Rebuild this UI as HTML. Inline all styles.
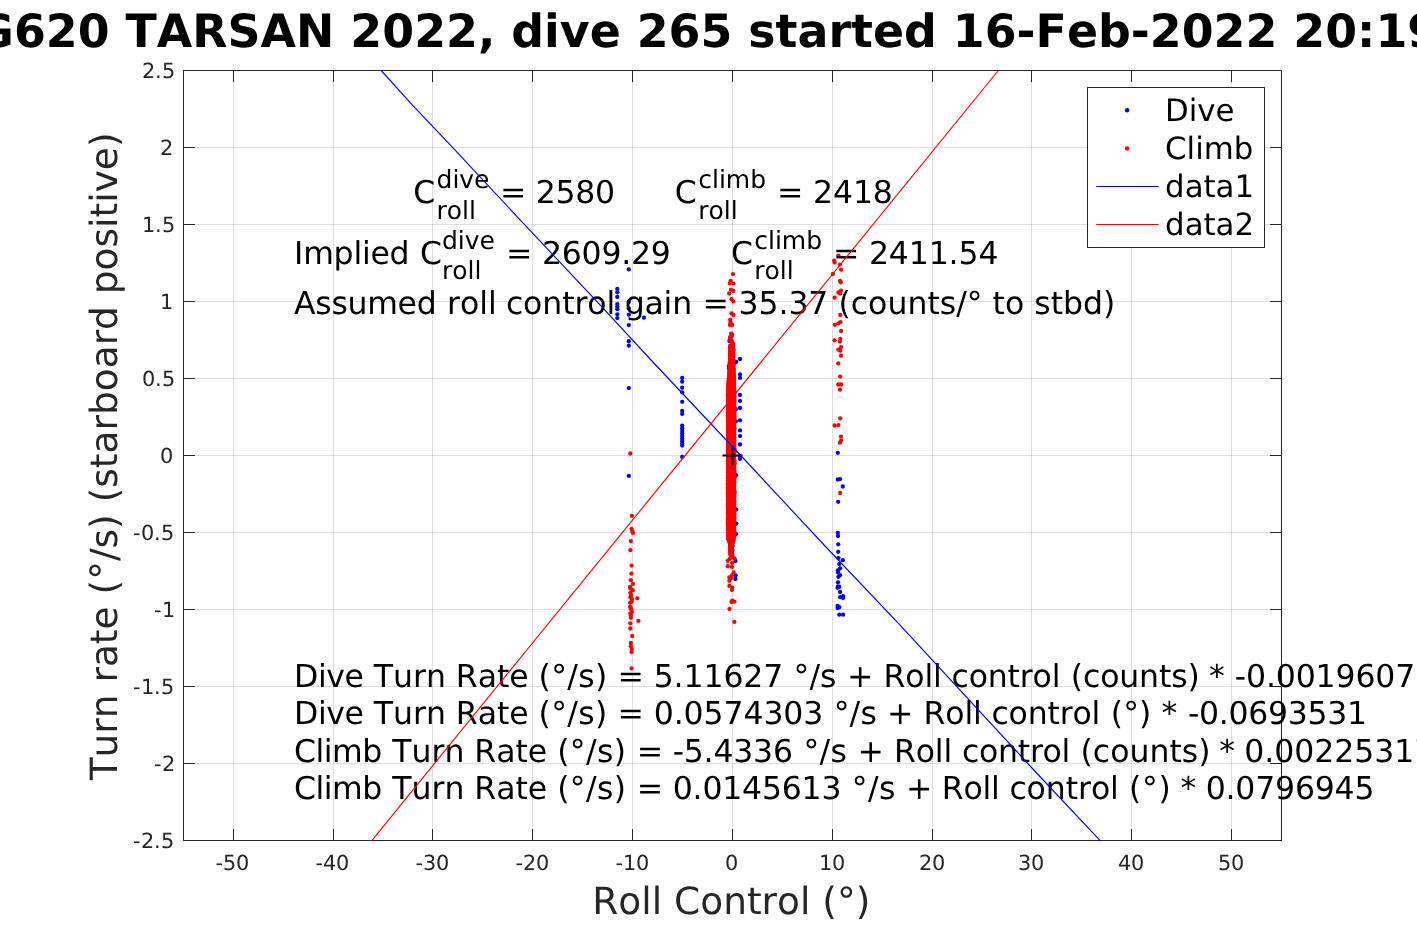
<!DOCTYPE html>
<html lang="en"><head><meta charset="utf-8"><title>SG620 TARSAN 2022, dive 265</title>
<style>
html,body{margin:0;padding:0;background:#fff;}
body{width:1417px;height:945px;overflow:hidden;position:relative;font-family:"DejaVu Sans","Liberation Sans",sans-serif;}
svg{position:absolute;left:0;top:0;display:block;}
text{font-family:"DejaVu Sans","Liberation Sans",sans-serif;font-kerning:none;font-variant-ligatures:none;text-rendering:geometricPrecision;}
.tk{font-size:20.83px;fill:#262626;}
.lb{font-size:37.5px;fill:#262626;}
.an{font-size:31.5px;fill:#000;}
.ss{font-size:25px;}
.lg{font-size:30.8px;fill:#000;}
.ti{font-size:45.83px;font-weight:bold;fill:#000;}
</style></head><body>
<svg width="1417" height="945" viewBox="0 0 1417 945">
<rect x="0" y="0" width="1417" height="945" fill="#fff"/>
<g stroke="#262626" stroke-opacity="0.15" stroke-width="1" shape-rendering="crispEdges">
<line x1="233.5" y1="70.5" x2="233.5" y2="840.5"/>
<line x1="333.5" y1="70.5" x2="333.5" y2="840.5"/>
<line x1="432.5" y1="70.5" x2="432.5" y2="840.5"/>
<line x1="532.5" y1="70.5" x2="532.5" y2="840.5"/>
<line x1="632.5" y1="70.5" x2="632.5" y2="840.5"/>
<line x1="732.5" y1="70.5" x2="732.5" y2="840.5"/>
<line x1="832.5" y1="70.5" x2="832.5" y2="840.5"/>
<line x1="932.5" y1="70.5" x2="932.5" y2="840.5"/>
<line x1="1031.5" y1="70.5" x2="1031.5" y2="840.5"/>
<line x1="1131.5" y1="70.5" x2="1131.5" y2="840.5"/>
<line x1="1231.5" y1="70.5" x2="1231.5" y2="840.5"/>
<line x1="183.5" y1="763.5" x2="1281.5" y2="763.5"/>
<line x1="183.5" y1="686.5" x2="1281.5" y2="686.5"/>
<line x1="183.5" y1="609.5" x2="1281.5" y2="609.5"/>
<line x1="183.5" y1="532.5" x2="1281.5" y2="532.5"/>
<line x1="183.5" y1="455.5" x2="1281.5" y2="455.5"/>
<line x1="183.5" y1="378.5" x2="1281.5" y2="378.5"/>
<line x1="183.5" y1="301.5" x2="1281.5" y2="301.5"/>
<line x1="183.5" y1="224.5" x2="1281.5" y2="224.5"/>
<line x1="183.5" y1="147.5" x2="1281.5" y2="147.5"/>
</g>
<g fill="#262626" stroke="none" shape-rendering="crispEdges">
<rect x="183" y="70" width="1099" height="1"/><rect x="183" y="840" width="1099" height="1"/><rect x="183" y="70" width="1" height="771"/><rect x="1281" y="70" width="1" height="771"/>
<rect x="233" y="829" width="1" height="12"/><rect x="233" y="70" width="1" height="12"/>
<rect x="333" y="829" width="1" height="12"/><rect x="333" y="70" width="1" height="12"/>
<rect x="432" y="829" width="1" height="12"/><rect x="432" y="70" width="1" height="12"/>
<rect x="532" y="829" width="1" height="12"/><rect x="532" y="70" width="1" height="12"/>
<rect x="632" y="829" width="1" height="12"/><rect x="632" y="70" width="1" height="12"/>
<rect x="732" y="829" width="1" height="12"/><rect x="732" y="70" width="1" height="12"/>
<rect x="832" y="829" width="1" height="12"/><rect x="832" y="70" width="1" height="12"/>
<rect x="932" y="829" width="1" height="12"/><rect x="932" y="70" width="1" height="12"/>
<rect x="1031" y="829" width="1" height="12"/><rect x="1031" y="70" width="1" height="12"/>
<rect x="1131" y="829" width="1" height="12"/><rect x="1131" y="70" width="1" height="12"/>
<rect x="1231" y="829" width="1" height="12"/><rect x="1231" y="70" width="1" height="12"/>
<rect x="183" y="763" width="12" height="1"/><rect x="1270" y="763" width="12" height="1"/>
<rect x="183" y="686" width="12" height="1"/><rect x="1270" y="686" width="12" height="1"/>
<rect x="183" y="609" width="12" height="1"/><rect x="1270" y="609" width="12" height="1"/>
<rect x="183" y="532" width="12" height="1"/><rect x="1270" y="532" width="12" height="1"/>
<rect x="183" y="455" width="12" height="1"/><rect x="1270" y="455" width="12" height="1"/>
<rect x="183" y="378" width="12" height="1"/><rect x="1270" y="378" width="12" height="1"/>
<rect x="183" y="301" width="12" height="1"/><rect x="1270" y="301" width="12" height="1"/>
<rect x="183" y="224" width="12" height="1"/><rect x="1270" y="224" width="12" height="1"/>
<rect x="183" y="147" width="12" height="1"/><rect x="1270" y="147" width="12" height="1"/>
</g>
<g fill="#0000ff">
<circle cx="617.3" cy="288.9" r="2.15"/>
<circle cx="617.3" cy="292.3" r="2.15"/>
<circle cx="617.3" cy="296.9" r="2.15"/>
<circle cx="617.3" cy="304.1" r="2.15"/>
<circle cx="617.3" cy="306.6" r="2.15"/>
<circle cx="617.3" cy="309.2" r="2.15"/>
<circle cx="617.3" cy="314.3" r="2.15"/>
<circle cx="617.3" cy="318.1" r="2.15"/>
<circle cx="628.8" cy="269.4" r="2.15"/>
<circle cx="628.8" cy="302" r="2.15"/>
<circle cx="628.8" cy="308.3" r="2.15"/>
<circle cx="628.8" cy="314.7" r="2.15"/>
<circle cx="628.8" cy="325.1" r="2.15"/>
<circle cx="628.8" cy="341.2" r="2.15"/>
<circle cx="628.8" cy="345.7" r="2.15"/>
<circle cx="628.8" cy="388.1" r="2.15"/>
<circle cx="628.8" cy="475.9" r="2.15"/>
<circle cx="643.9" cy="317.7" r="2.15"/>
<circle cx="682.2" cy="377.9" r="2.15"/>
<circle cx="682.2" cy="381.7" r="2.15"/>
<circle cx="682.2" cy="387.7" r="2.15"/>
<circle cx="682.2" cy="392.3" r="2.15"/>
<circle cx="682.2" cy="401.8" r="2.15"/>
<circle cx="682.2" cy="410.9" r="2.15"/>
<circle cx="682.2" cy="413.9" r="2.15"/>
<circle cx="682.2" cy="425.7" r="2.15"/>
<circle cx="682.2" cy="428.3" r="2.15"/>
<circle cx="682.2" cy="430.8" r="2.15"/>
<circle cx="682.2" cy="433.4" r="2.15"/>
<circle cx="682.2" cy="435.9" r="2.15"/>
<circle cx="682.2" cy="438.4" r="2.15"/>
<circle cx="682.2" cy="441" r="2.15"/>
<circle cx="682.2" cy="443.5" r="2.15"/>
<circle cx="682.2" cy="445.6" r="2.15"/>
<circle cx="682.2" cy="456.9" r="2.15"/>
<circle cx="740.0" cy="359" r="2.15"/>
<circle cx="740.0" cy="374.4" r="2.15"/>
<circle cx="740.0" cy="377.9" r="2.15"/>
<circle cx="740.0" cy="394.9" r="2.15"/>
<circle cx="740.0" cy="400.9" r="2.15"/>
<circle cx="740.0" cy="408" r="2.15"/>
<circle cx="740.0" cy="420.3" r="2.15"/>
<circle cx="740.0" cy="430.4" r="2.15"/>
<circle cx="740.0" cy="436.1" r="2.15"/>
<circle cx="740.0" cy="444.5" r="2.15"/>
<circle cx="740.0" cy="456.3" r="2.15"/>
<circle cx="740.0" cy="458.8" r="2.15"/>
<circle cx="736" cy="361.6" r="2.15"/>
<circle cx="735.7" cy="362.4" r="2.15"/>
<circle cx="729.4" cy="341" r="2.15"/>
<circle cx="729" cy="366" r="2.15"/>
<circle cx="729" cy="368.5" r="2.15"/>
<circle cx="735.7" cy="409.2" r="2.15"/>
<circle cx="735.7" cy="421.5" r="2.15"/>
<circle cx="736.1" cy="475.3" r="2.15"/>
<circle cx="736.3" cy="509.6" r="2.15"/>
<circle cx="736.3" cy="523.6" r="2.15"/>
<circle cx="735.9" cy="534.2" r="2.15"/>
<circle cx="732.6" cy="546" r="2.15"/>
<circle cx="735.5" cy="560.9" r="2.15"/>
<circle cx="735.6" cy="575.3" r="2.15"/>
<circle cx="735.4" cy="579" r="2.15"/>
<circle cx="837.8" cy="452.8" r="2.15"/>
<circle cx="837.8" cy="479.5" r="2.15"/>
<circle cx="840.1" cy="479.1" r="2.15"/>
<circle cx="842.8" cy="486.5" r="2.15"/>
<circle cx="838.2" cy="501.8" r="2.15"/>
<circle cx="837.8" cy="532.8" r="2.15"/>
<circle cx="838" cy="536" r="2.15"/>
<circle cx="838.2" cy="544.3" r="2.15"/>
<circle cx="838.2" cy="551.8" r="2.15"/>
<circle cx="838.4" cy="558.1" r="2.15"/>
<circle cx="842.8" cy="560.2" r="2.15"/>
<circle cx="839.3" cy="564.1" r="2.15"/>
<circle cx="840.1" cy="568.3" r="2.15"/>
<circle cx="838" cy="570.4" r="2.15"/>
<circle cx="838" cy="572.5" r="2.15"/>
<circle cx="840.1" cy="575.1" r="2.15"/>
<circle cx="838.4" cy="576.8" r="2.15"/>
<circle cx="838" cy="582.3" r="2.15"/>
<circle cx="838" cy="586.5" r="2.15"/>
<circle cx="839.3" cy="586.9" r="2.15"/>
<circle cx="837.6" cy="587.8" r="2.15"/>
<circle cx="840.1" cy="592" r="2.15"/>
<circle cx="843.1" cy="596.2" r="2.15"/>
<circle cx="840.1" cy="597.1" r="2.15"/>
<circle cx="843.1" cy="597.9" r="2.15"/>
<circle cx="837.6" cy="606" r="2.15"/>
<circle cx="839.3" cy="607.2" r="2.15"/>
<circle cx="837.6" cy="608.1" r="2.15"/>
<circle cx="839.3" cy="614.7" r="2.15"/>
<circle cx="843.1" cy="614.7" r="2.15"/>
</g>
<g fill="#ff0000">
<circle cx="630.3" cy="453.5" r="2.15"/>
<circle cx="631.9" cy="515.8" r="2.15"/>
<circle cx="631.6" cy="528.8" r="2.15"/>
<circle cx="632.3" cy="530.9" r="2.15"/>
<circle cx="632.9" cy="532.9" r="2.15"/>
<circle cx="630.8" cy="541.1" r="2.15"/>
<circle cx="630.4" cy="550.2" r="2.15"/>
<circle cx="631.6" cy="565.6" r="2.15"/>
<circle cx="631.4" cy="573.7" r="2.15"/>
<circle cx="630.8" cy="580.2" r="2.15"/>
<circle cx="632.9" cy="583.9" r="2.15"/>
<circle cx="630.1" cy="586.9" r="2.15"/>
<circle cx="630.4" cy="588.5" r="2.15"/>
<circle cx="632.9" cy="590.2" r="2.15"/>
<circle cx="630.4" cy="592.8" r="2.15"/>
<circle cx="631.2" cy="594.9" r="2.15"/>
<circle cx="630.4" cy="597.2" r="2.15"/>
<circle cx="631.6" cy="598.3" r="2.15"/>
<circle cx="631.8" cy="600" r="2.15"/>
<circle cx="631.6" cy="601.7" r="2.15"/>
<circle cx="630.1" cy="602.8" r="2.15"/>
<circle cx="637.3" cy="598.3" r="2.15"/>
<circle cx="630.1" cy="606.8" r="2.15"/>
<circle cx="630.8" cy="608.4" r="2.15"/>
<circle cx="631.6" cy="610.1" r="2.15"/>
<circle cx="631.8" cy="612.3" r="2.15"/>
<circle cx="630.4" cy="613.5" r="2.15"/>
<circle cx="630.8" cy="615.6" r="2.15"/>
<circle cx="630.8" cy="617.8" r="2.15"/>
<circle cx="638.4" cy="620.9" r="2.15"/>
<circle cx="630.3" cy="623.3" r="2.15"/>
<circle cx="630.3" cy="628.5" r="2.15"/>
<circle cx="632.2" cy="636" r="2.15"/>
<circle cx="630.8" cy="642.8" r="2.15"/>
<circle cx="630.8" cy="646.2" r="2.15"/>
<circle cx="631.8" cy="649.1" r="2.15"/>
<circle cx="631.6" cy="652" r="2.15"/>
<circle cx="631.6" cy="668.4" r="2.15"/>
<circle cx="733.0" cy="274.1" r="2.15"/>
<circle cx="730.6" cy="280.8" r="2.15"/>
<circle cx="729.8" cy="283.4" r="2.15"/>
<circle cx="733.4" cy="283.6" r="2.15"/>
<circle cx="730.9" cy="289.7" r="2.15"/>
<circle cx="733.4" cy="291" r="2.15"/>
<circle cx="729.2" cy="293.5" r="2.15"/>
<circle cx="731.5" cy="299.2" r="2.15"/>
<circle cx="733.4" cy="301.4" r="2.15"/>
<circle cx="731.5" cy="313.4" r="2.15"/>
<circle cx="733.4" cy="315" r="2.15"/>
<circle cx="730.2" cy="319.8" r="2.15"/>
<circle cx="730.6" cy="322.3" r="2.15"/>
<circle cx="729.8" cy="324.9" r="2.15"/>
<circle cx="732.3" cy="324.9" r="2.15"/>
<circle cx="731.1" cy="333.7" r="2.15"/>
<circle cx="732.2" cy="334.7" r="2.15"/>
<circle cx="731.8" cy="335.9" r="2.15"/>
<circle cx="730.3" cy="337.0" r="2.15"/>
<circle cx="730.2" cy="337.9" r="2.15"/>
<circle cx="730.3" cy="338.7" r="2.15"/>
<circle cx="731.5" cy="340.3" r="2.15"/>
<circle cx="730.5" cy="340.8" r="2.15"/>
<circle cx="732.1" cy="342.4" r="2.15"/>
<circle cx="731.9" cy="342.9" r="2.15"/>
<circle cx="733.2" cy="343.6" r="2.15"/>
<circle cx="732.8" cy="344.8" r="2.15"/>
<circle cx="730.6" cy="345.7" r="2.15"/>
<circle cx="731.1" cy="346.3" r="2.15"/>
<circle cx="730.1" cy="346.0" r="2.15"/>
<circle cx="733.1" cy="346.5" r="2.15"/>
<circle cx="732.1" cy="346.9" r="2.15"/>
<circle cx="731.9" cy="346.7" r="2.15"/>
<circle cx="730.0" cy="347.0" r="2.15"/>
<circle cx="732.8" cy="347.5" r="2.15"/>
<circle cx="732.3" cy="347.9" r="2.15"/>
<circle cx="731.1" cy="348.1" r="2.15"/>
<circle cx="730.3" cy="348.0" r="2.15"/>
<circle cx="732.9" cy="348.5" r="2.15"/>
<circle cx="732.6" cy="349.2" r="2.15"/>
<circle cx="730.9" cy="349.1" r="2.15"/>
<circle cx="730.4" cy="349.0" r="2.15"/>
<circle cx="733.4" cy="349.5" r="2.15"/>
<circle cx="732.4" cy="349.8" r="2.15"/>
<circle cx="733.2" cy="349.7" r="2.15"/>
<circle cx="730.3" cy="350.0" r="2.15"/>
<circle cx="733.3" cy="350.5" r="2.15"/>
<circle cx="730.6" cy="351.0" r="2.15"/>
<circle cx="730.2" cy="351.1" r="2.15"/>
<circle cx="730.6" cy="351.0" r="2.15"/>
<circle cx="733.1" cy="351.5" r="2.15"/>
<circle cx="732.9" cy="351.9" r="2.15"/>
<circle cx="732.3" cy="352.1" r="2.15"/>
<circle cx="730.4" cy="352.0" r="2.15"/>
<circle cx="733.0" cy="352.5" r="2.15"/>
<circle cx="732.8" cy="353.4" r="2.15"/>
<circle cx="731.6" cy="353.1" r="2.15"/>
<circle cx="730.0" cy="353.0" r="2.15"/>
<circle cx="733.2" cy="353.5" r="2.15"/>
<circle cx="732.2" cy="354.4" r="2.15"/>
<circle cx="732.7" cy="353.8" r="2.15"/>
<circle cx="730.2" cy="354.0" r="2.15"/>
<circle cx="733.2" cy="354.5" r="2.15"/>
<circle cx="730.2" cy="355.0" r="2.15"/>
<circle cx="730.6" cy="354.7" r="2.15"/>
<circle cx="730.0" cy="355.0" r="2.15"/>
<circle cx="733.3" cy="355.5" r="2.15"/>
<circle cx="730.5" cy="355.8" r="2.15"/>
<circle cx="731.4" cy="356.3" r="2.15"/>
<circle cx="730.0" cy="356.0" r="2.15"/>
<circle cx="733.0" cy="356.5" r="2.15"/>
<circle cx="731.9" cy="357.3" r="2.15"/>
<circle cx="732.7" cy="357.3" r="2.15"/>
<circle cx="730.2" cy="357.0" r="2.15"/>
<circle cx="733.0" cy="357.5" r="2.15"/>
<circle cx="731.2" cy="358.3" r="2.15"/>
<circle cx="733.2" cy="357.7" r="2.15"/>
<circle cx="730.1" cy="358.0" r="2.15"/>
<circle cx="732.8" cy="358.5" r="2.15"/>
<circle cx="730.8" cy="359.0" r="2.15"/>
<circle cx="732.0" cy="358.8" r="2.15"/>
<circle cx="729.9" cy="359.0" r="2.15"/>
<circle cx="733.0" cy="359.5" r="2.15"/>
<circle cx="731.3" cy="360.1" r="2.15"/>
<circle cx="733.1" cy="360.2" r="2.15"/>
<circle cx="730.4" cy="360.0" r="2.15"/>
<circle cx="733.2" cy="360.5" r="2.15"/>
<circle cx="732.3" cy="360.6" r="2.15"/>
<circle cx="733.0" cy="361.2" r="2.15"/>
<circle cx="730.6" cy="361.0" r="2.15"/>
<circle cx="733.4" cy="361.5" r="2.15"/>
<circle cx="731.3" cy="361.9" r="2.15"/>
<circle cx="730.3" cy="362.1" r="2.15"/>
<circle cx="729.8" cy="362.0" r="2.15"/>
<circle cx="732.7" cy="362.5" r="2.15"/>
<circle cx="730.6" cy="362.7" r="2.15"/>
<circle cx="731.1" cy="362.6" r="2.15"/>
<circle cx="729.7" cy="363.0" r="2.15"/>
<circle cx="732.8" cy="363.5" r="2.15"/>
<circle cx="730.2" cy="363.9" r="2.15"/>
<circle cx="729.9" cy="364.3" r="2.15"/>
<circle cx="730.2" cy="364.0" r="2.15"/>
<circle cx="732.9" cy="364.5" r="2.15"/>
<circle cx="730.7" cy="364.9" r="2.15"/>
<circle cx="731.1" cy="364.7" r="2.15"/>
<circle cx="730.3" cy="365.0" r="2.15"/>
<circle cx="733.7" cy="365.5" r="2.15"/>
<circle cx="731.5" cy="366.0" r="2.15"/>
<circle cx="730.0" cy="365.7" r="2.15"/>
<circle cx="729.8" cy="366.0" r="2.15"/>
<circle cx="733.0" cy="366.5" r="2.15"/>
<circle cx="732.9" cy="366.7" r="2.15"/>
<circle cx="729.7" cy="367.4" r="2.15"/>
<circle cx="729.9" cy="367.0" r="2.15"/>
<circle cx="733.0" cy="367.5" r="2.15"/>
<circle cx="731.7" cy="367.6" r="2.15"/>
<circle cx="731.7" cy="368.4" r="2.15"/>
<circle cx="730.1" cy="368.0" r="2.15"/>
<circle cx="733.5" cy="368.5" r="2.15"/>
<circle cx="730.5" cy="368.9" r="2.15"/>
<circle cx="730.2" cy="369.2" r="2.15"/>
<circle cx="729.7" cy="369.0" r="2.15"/>
<circle cx="733.6" cy="369.5" r="2.15"/>
<circle cx="730.8" cy="369.8" r="2.15"/>
<circle cx="732.8" cy="370.4" r="2.15"/>
<circle cx="730.0" cy="370.0" r="2.15"/>
<circle cx="733.7" cy="370.5" r="2.15"/>
<circle cx="732.9" cy="371.2" r="2.15"/>
<circle cx="730.3" cy="371.0" r="2.15"/>
<circle cx="729.5" cy="371.0" r="2.15"/>
<circle cx="733.0" cy="371.5" r="2.15"/>
<circle cx="729.4" cy="371.8" r="2.15"/>
<circle cx="730.4" cy="372.2" r="2.15"/>
<circle cx="729.9" cy="372.0" r="2.15"/>
<circle cx="733.4" cy="372.5" r="2.15"/>
<circle cx="733.4" cy="373.4" r="2.15"/>
<circle cx="733.5" cy="372.9" r="2.15"/>
<circle cx="729.2" cy="373.0" r="2.15"/>
<circle cx="733.2" cy="373.5" r="2.15"/>
<circle cx="730.0" cy="373.8" r="2.15"/>
<circle cx="732.0" cy="374.3" r="2.15"/>
<circle cx="729.7" cy="374.0" r="2.15"/>
<circle cx="733.5" cy="374.5" r="2.15"/>
<circle cx="732.2" cy="375.2" r="2.15"/>
<circle cx="729.5" cy="375.1" r="2.15"/>
<circle cx="729.7" cy="375.0" r="2.15"/>
<circle cx="733.8" cy="375.5" r="2.15"/>
<circle cx="732.6" cy="376.0" r="2.15"/>
<circle cx="729.8" cy="376.2" r="2.15"/>
<circle cx="729.1" cy="376.0" r="2.15"/>
<circle cx="733.9" cy="376.5" r="2.15"/>
<circle cx="733.7" cy="376.9" r="2.15"/>
<circle cx="730.9" cy="377.4" r="2.15"/>
<circle cx="729.4" cy="377.0" r="2.15"/>
<circle cx="733.3" cy="377.5" r="2.15"/>
<circle cx="729.5" cy="377.7" r="2.15"/>
<circle cx="733.4" cy="378.2" r="2.15"/>
<circle cx="728.8" cy="378.0" r="2.15"/>
<circle cx="733.9" cy="378.5" r="2.15"/>
<circle cx="733.8" cy="379.1" r="2.15"/>
<circle cx="730.6" cy="379.0" r="2.15"/>
<circle cx="728.7" cy="379.0" r="2.15"/>
<circle cx="733.2" cy="379.5" r="2.15"/>
<circle cx="733.8" cy="380.1" r="2.15"/>
<circle cx="731.5" cy="380.3" r="2.15"/>
<circle cx="728.9" cy="380.0" r="2.15"/>
<circle cx="734.1" cy="380.5" r="2.15"/>
<circle cx="733.1" cy="380.8" r="2.15"/>
<circle cx="730.0" cy="380.8" r="2.15"/>
<circle cx="728.6" cy="381.0" r="2.15"/>
<circle cx="733.8" cy="381.5" r="2.15"/>
<circle cx="730.0" cy="381.9" r="2.15"/>
<circle cx="729.3" cy="382.3" r="2.15"/>
<circle cx="728.7" cy="382.0" r="2.15"/>
<circle cx="733.7" cy="382.5" r="2.15"/>
<circle cx="731.7" cy="383.3" r="2.15"/>
<circle cx="730.8" cy="383.3" r="2.15"/>
<circle cx="728.7" cy="383.0" r="2.15"/>
<circle cx="733.8" cy="383.5" r="2.15"/>
<circle cx="731.4" cy="383.6" r="2.15"/>
<circle cx="730.9" cy="383.7" r="2.15"/>
<circle cx="728.2" cy="384.0" r="2.15"/>
<circle cx="734.1" cy="384.5" r="2.15"/>
<circle cx="729.3" cy="385.0" r="2.15"/>
<circle cx="732.5" cy="385.0" r="2.15"/>
<circle cx="728.4" cy="385.0" r="2.15"/>
<circle cx="733.9" cy="385.5" r="2.15"/>
<circle cx="731.5" cy="386.2" r="2.15"/>
<circle cx="728.9" cy="386.0" r="2.15"/>
<circle cx="728.3" cy="386.0" r="2.15"/>
<circle cx="733.7" cy="386.5" r="2.15"/>
<circle cx="732.8" cy="387.0" r="2.15"/>
<circle cx="731.6" cy="387.2" r="2.15"/>
<circle cx="728.8" cy="387.0" r="2.15"/>
<circle cx="733.9" cy="387.5" r="2.15"/>
<circle cx="731.9" cy="388.0" r="2.15"/>
<circle cx="731.3" cy="388.2" r="2.15"/>
<circle cx="728.3" cy="388.0" r="2.15"/>
<circle cx="734.0" cy="388.5" r="2.15"/>
<circle cx="731.0" cy="389.4" r="2.15"/>
<circle cx="732.4" cy="389.3" r="2.15"/>
<circle cx="728.7" cy="389.0" r="2.15"/>
<circle cx="733.8" cy="389.5" r="2.15"/>
<circle cx="731.5" cy="390.4" r="2.15"/>
<circle cx="733.3" cy="389.7" r="2.15"/>
<circle cx="727.9" cy="390.0" r="2.15"/>
<circle cx="734.0" cy="390.5" r="2.15"/>
<circle cx="728.5" cy="390.8" r="2.15"/>
<circle cx="728.5" cy="391.1" r="2.15"/>
<circle cx="728.5" cy="391.0" r="2.15"/>
<circle cx="734.4" cy="391.5" r="2.15"/>
<circle cx="729.0" cy="392.2" r="2.15"/>
<circle cx="732.2" cy="391.7" r="2.15"/>
<circle cx="728.6" cy="392.0" r="2.15"/>
<circle cx="734.5" cy="392.5" r="2.15"/>
<circle cx="729.4" cy="393.4" r="2.15"/>
<circle cx="730.5" cy="393.0" r="2.15"/>
<circle cx="728.7" cy="393.0" r="2.15"/>
<circle cx="734.3" cy="393.5" r="2.15"/>
<circle cx="729.0" cy="393.9" r="2.15"/>
<circle cx="731.2" cy="393.9" r="2.15"/>
<circle cx="728.0" cy="394.0" r="2.15"/>
<circle cx="733.9" cy="394.5" r="2.15"/>
<circle cx="732.5" cy="394.6" r="2.15"/>
<circle cx="731.5" cy="395.0" r="2.15"/>
<circle cx="727.8" cy="395.0" r="2.15"/>
<circle cx="733.9" cy="395.5" r="2.15"/>
<circle cx="731.9" cy="396.0" r="2.15"/>
<circle cx="728.4" cy="396.4" r="2.15"/>
<circle cx="728.5" cy="396.0" r="2.15"/>
<circle cx="734.5" cy="396.5" r="2.15"/>
<circle cx="728.7" cy="396.8" r="2.15"/>
<circle cx="728.2" cy="397.2" r="2.15"/>
<circle cx="728.0" cy="397.0" r="2.15"/>
<circle cx="733.7" cy="397.5" r="2.15"/>
<circle cx="730.7" cy="398.3" r="2.15"/>
<circle cx="733.2" cy="397.8" r="2.15"/>
<circle cx="727.9" cy="398.0" r="2.15"/>
<circle cx="734.4" cy="398.5" r="2.15"/>
<circle cx="731.6" cy="399.2" r="2.15"/>
<circle cx="728.6" cy="398.6" r="2.15"/>
<circle cx="728.4" cy="399.0" r="2.15"/>
<circle cx="734.0" cy="399.5" r="2.15"/>
<circle cx="728.5" cy="400.4" r="2.15"/>
<circle cx="732.0" cy="400.2" r="2.15"/>
<circle cx="727.9" cy="400.0" r="2.15"/>
<circle cx="734.4" cy="400.5" r="2.15"/>
<circle cx="728.4" cy="401.3" r="2.15"/>
<circle cx="730.9" cy="400.9" r="2.15"/>
<circle cx="728.3" cy="401.0" r="2.15"/>
<circle cx="734.4" cy="401.5" r="2.15"/>
<circle cx="729.7" cy="401.7" r="2.15"/>
<circle cx="731.3" cy="401.8" r="2.15"/>
<circle cx="727.9" cy="402.0" r="2.15"/>
<circle cx="733.7" cy="402.5" r="2.15"/>
<circle cx="728.3" cy="402.8" r="2.15"/>
<circle cx="730.0" cy="402.8" r="2.15"/>
<circle cx="728.5" cy="403.0" r="2.15"/>
<circle cx="733.9" cy="403.5" r="2.15"/>
<circle cx="731.2" cy="403.7" r="2.15"/>
<circle cx="730.2" cy="403.6" r="2.15"/>
<circle cx="728.0" cy="404.0" r="2.15"/>
<circle cx="733.6" cy="404.5" r="2.15"/>
<circle cx="732.6" cy="405.0" r="2.15"/>
<circle cx="729.2" cy="405.0" r="2.15"/>
<circle cx="728.6" cy="405.0" r="2.15"/>
<circle cx="733.7" cy="405.5" r="2.15"/>
<circle cx="733.2" cy="405.9" r="2.15"/>
<circle cx="731.1" cy="406.3" r="2.15"/>
<circle cx="728.2" cy="406.0" r="2.15"/>
<circle cx="734.1" cy="406.5" r="2.15"/>
<circle cx="732.3" cy="407.4" r="2.15"/>
<circle cx="730.2" cy="407.3" r="2.15"/>
<circle cx="728.4" cy="407.0" r="2.15"/>
<circle cx="734.2" cy="407.5" r="2.15"/>
<circle cx="730.5" cy="407.9" r="2.15"/>
<circle cx="728.3" cy="407.7" r="2.15"/>
<circle cx="727.9" cy="408.0" r="2.15"/>
<circle cx="734.3" cy="408.5" r="2.15"/>
<circle cx="729.6" cy="408.7" r="2.15"/>
<circle cx="728.5" cy="409.3" r="2.15"/>
<circle cx="728.6" cy="409.0" r="2.15"/>
<circle cx="734.2" cy="409.5" r="2.15"/>
<circle cx="729.8" cy="409.8" r="2.15"/>
<circle cx="729.8" cy="410.0" r="2.15"/>
<circle cx="727.9" cy="410.0" r="2.15"/>
<circle cx="734.0" cy="410.5" r="2.15"/>
<circle cx="729.7" cy="411.4" r="2.15"/>
<circle cx="734.1" cy="411.0" r="2.15"/>
<circle cx="728.0" cy="411.0" r="2.15"/>
<circle cx="734.5" cy="411.5" r="2.15"/>
<circle cx="730.0" cy="411.9" r="2.15"/>
<circle cx="728.0" cy="411.9" r="2.15"/>
<circle cx="728.2" cy="412.0" r="2.15"/>
<circle cx="734.1" cy="412.5" r="2.15"/>
<circle cx="729.3" cy="413.0" r="2.15"/>
<circle cx="728.0" cy="412.8" r="2.15"/>
<circle cx="727.9" cy="413.0" r="2.15"/>
<circle cx="734.0" cy="413.5" r="2.15"/>
<circle cx="728.3" cy="413.6" r="2.15"/>
<circle cx="729.9" cy="413.8" r="2.15"/>
<circle cx="728.3" cy="414.0" r="2.15"/>
<circle cx="734.1" cy="414.5" r="2.15"/>
<circle cx="732.7" cy="415.1" r="2.15"/>
<circle cx="732.5" cy="415.3" r="2.15"/>
<circle cx="728.2" cy="415.0" r="2.15"/>
<circle cx="733.9" cy="415.5" r="2.15"/>
<circle cx="734.2" cy="415.7" r="2.15"/>
<circle cx="732.6" cy="416.1" r="2.15"/>
<circle cx="727.8" cy="416.0" r="2.15"/>
<circle cx="734.4" cy="416.5" r="2.15"/>
<circle cx="733.6" cy="417.1" r="2.15"/>
<circle cx="732.6" cy="417.2" r="2.15"/>
<circle cx="727.9" cy="417.0" r="2.15"/>
<circle cx="734.1" cy="417.5" r="2.15"/>
<circle cx="731.2" cy="418.3" r="2.15"/>
<circle cx="733.1" cy="418.3" r="2.15"/>
<circle cx="728.3" cy="418.0" r="2.15"/>
<circle cx="734.4" cy="418.5" r="2.15"/>
<circle cx="732.3" cy="419.2" r="2.15"/>
<circle cx="729.4" cy="418.6" r="2.15"/>
<circle cx="727.9" cy="419.0" r="2.15"/>
<circle cx="733.9" cy="419.5" r="2.15"/>
<circle cx="728.7" cy="420.3" r="2.15"/>
<circle cx="731.5" cy="420.1" r="2.15"/>
<circle cx="728.4" cy="420.0" r="2.15"/>
<circle cx="734.2" cy="420.5" r="2.15"/>
<circle cx="731.1" cy="420.6" r="2.15"/>
<circle cx="733.0" cy="421.2" r="2.15"/>
<circle cx="728.3" cy="421.0" r="2.15"/>
<circle cx="734.1" cy="421.5" r="2.15"/>
<circle cx="732.2" cy="421.7" r="2.15"/>
<circle cx="732.6" cy="421.8" r="2.15"/>
<circle cx="727.9" cy="422.0" r="2.15"/>
<circle cx="733.8" cy="422.5" r="2.15"/>
<circle cx="732.6" cy="422.8" r="2.15"/>
<circle cx="732.7" cy="423.4" r="2.15"/>
<circle cx="728.2" cy="423.0" r="2.15"/>
<circle cx="733.9" cy="423.5" r="2.15"/>
<circle cx="731.0" cy="424.1" r="2.15"/>
<circle cx="732.8" cy="424.1" r="2.15"/>
<circle cx="728.4" cy="424.0" r="2.15"/>
<circle cx="733.7" cy="424.5" r="2.15"/>
<circle cx="728.9" cy="424.8" r="2.15"/>
<circle cx="732.7" cy="424.8" r="2.15"/>
<circle cx="728.3" cy="425.0" r="2.15"/>
<circle cx="733.6" cy="425.5" r="2.15"/>
<circle cx="728.4" cy="425.8" r="2.15"/>
<circle cx="732.2" cy="426.2" r="2.15"/>
<circle cx="728.4" cy="426.0" r="2.15"/>
<circle cx="733.9" cy="426.5" r="2.15"/>
<circle cx="731.3" cy="427.0" r="2.15"/>
<circle cx="730.9" cy="426.7" r="2.15"/>
<circle cx="728.6" cy="427.0" r="2.15"/>
<circle cx="733.8" cy="427.5" r="2.15"/>
<circle cx="734.2" cy="428.3" r="2.15"/>
<circle cx="728.1" cy="428.0" r="2.15"/>
<circle cx="728.5" cy="428.0" r="2.15"/>
<circle cx="734.5" cy="428.5" r="2.15"/>
<circle cx="730.8" cy="428.8" r="2.15"/>
<circle cx="729.3" cy="429.4" r="2.15"/>
<circle cx="728.0" cy="429.0" r="2.15"/>
<circle cx="734.1" cy="429.5" r="2.15"/>
<circle cx="728.9" cy="430.0" r="2.15"/>
<circle cx="734.0" cy="429.7" r="2.15"/>
<circle cx="728.5" cy="430.0" r="2.15"/>
<circle cx="734.1" cy="430.5" r="2.15"/>
<circle cx="733.6" cy="431.2" r="2.15"/>
<circle cx="729.5" cy="431.3" r="2.15"/>
<circle cx="728.2" cy="431.0" r="2.15"/>
<circle cx="733.6" cy="431.5" r="2.15"/>
<circle cx="728.0" cy="432.0" r="2.15"/>
<circle cx="730.8" cy="431.8" r="2.15"/>
<circle cx="727.9" cy="432.0" r="2.15"/>
<circle cx="733.9" cy="432.5" r="2.15"/>
<circle cx="730.0" cy="433.3" r="2.15"/>
<circle cx="728.0" cy="433.2" r="2.15"/>
<circle cx="728.6" cy="433.0" r="2.15"/>
<circle cx="733.7" cy="433.5" r="2.15"/>
<circle cx="733.8" cy="434.2" r="2.15"/>
<circle cx="733.7" cy="433.8" r="2.15"/>
<circle cx="728.1" cy="434.0" r="2.15"/>
<circle cx="734.0" cy="434.5" r="2.15"/>
<circle cx="734.3" cy="435.1" r="2.15"/>
<circle cx="730.3" cy="434.9" r="2.15"/>
<circle cx="728.0" cy="435.0" r="2.15"/>
<circle cx="733.6" cy="435.5" r="2.15"/>
<circle cx="728.6" cy="436.3" r="2.15"/>
<circle cx="729.8" cy="436.3" r="2.15"/>
<circle cx="728.0" cy="436.0" r="2.15"/>
<circle cx="733.8" cy="436.5" r="2.15"/>
<circle cx="731.2" cy="436.8" r="2.15"/>
<circle cx="730.4" cy="437.4" r="2.15"/>
<circle cx="728.6" cy="437.0" r="2.15"/>
<circle cx="734.3" cy="437.5" r="2.15"/>
<circle cx="732.0" cy="438.3" r="2.15"/>
<circle cx="733.9" cy="438.0" r="2.15"/>
<circle cx="728.4" cy="438.0" r="2.15"/>
<circle cx="733.6" cy="438.5" r="2.15"/>
<circle cx="732.6" cy="439.0" r="2.15"/>
<circle cx="732.7" cy="439.1" r="2.15"/>
<circle cx="728.1" cy="439.0" r="2.15"/>
<circle cx="733.6" cy="439.5" r="2.15"/>
<circle cx="733.8" cy="439.7" r="2.15"/>
<circle cx="731.0" cy="439.9" r="2.15"/>
<circle cx="728.1" cy="440.0" r="2.15"/>
<circle cx="734.3" cy="440.5" r="2.15"/>
<circle cx="734.2" cy="440.8" r="2.15"/>
<circle cx="732.1" cy="440.8" r="2.15"/>
<circle cx="728.3" cy="441.0" r="2.15"/>
<circle cx="734.0" cy="441.5" r="2.15"/>
<circle cx="729.1" cy="441.7" r="2.15"/>
<circle cx="729.3" cy="442.3" r="2.15"/>
<circle cx="728.2" cy="442.0" r="2.15"/>
<circle cx="733.8" cy="442.5" r="2.15"/>
<circle cx="733.7" cy="443.4" r="2.15"/>
<circle cx="730.8" cy="442.7" r="2.15"/>
<circle cx="728.0" cy="443.0" r="2.15"/>
<circle cx="733.7" cy="443.5" r="2.15"/>
<circle cx="730.2" cy="443.7" r="2.15"/>
<circle cx="729.5" cy="443.8" r="2.15"/>
<circle cx="728.3" cy="444.0" r="2.15"/>
<circle cx="734.4" cy="444.5" r="2.15"/>
<circle cx="732.7" cy="444.9" r="2.15"/>
<circle cx="730.6" cy="445.0" r="2.15"/>
<circle cx="728.1" cy="445.0" r="2.15"/>
<circle cx="733.9" cy="445.5" r="2.15"/>
<circle cx="728.4" cy="445.8" r="2.15"/>
<circle cx="734.1" cy="445.7" r="2.15"/>
<circle cx="728.3" cy="446.0" r="2.15"/>
<circle cx="734.2" cy="446.5" r="2.15"/>
<circle cx="733.4" cy="446.8" r="2.15"/>
<circle cx="729.7" cy="446.8" r="2.15"/>
<circle cx="728.2" cy="447.0" r="2.15"/>
<circle cx="734.0" cy="447.5" r="2.15"/>
<circle cx="734.0" cy="448.3" r="2.15"/>
<circle cx="733.5" cy="447.6" r="2.15"/>
<circle cx="727.8" cy="448.0" r="2.15"/>
<circle cx="734.2" cy="448.5" r="2.15"/>
<circle cx="733.6" cy="449.0" r="2.15"/>
<circle cx="731.7" cy="448.6" r="2.15"/>
<circle cx="728.2" cy="449.0" r="2.15"/>
<circle cx="734.4" cy="449.5" r="2.15"/>
<circle cx="733.2" cy="450.3" r="2.15"/>
<circle cx="734.1" cy="449.8" r="2.15"/>
<circle cx="727.9" cy="450.0" r="2.15"/>
<circle cx="733.7" cy="450.5" r="2.15"/>
<circle cx="731.3" cy="451.1" r="2.15"/>
<circle cx="733.9" cy="451.2" r="2.15"/>
<circle cx="728.4" cy="451.0" r="2.15"/>
<circle cx="734.3" cy="451.5" r="2.15"/>
<circle cx="730.9" cy="452.0" r="2.15"/>
<circle cx="728.2" cy="452.2" r="2.15"/>
<circle cx="728.0" cy="452.0" r="2.15"/>
<circle cx="734.4" cy="452.5" r="2.15"/>
<circle cx="732.1" cy="452.8" r="2.15"/>
<circle cx="728.8" cy="452.8" r="2.15"/>
<circle cx="728.4" cy="453.0" r="2.15"/>
<circle cx="734.2" cy="453.5" r="2.15"/>
<circle cx="728.7" cy="453.7" r="2.15"/>
<circle cx="731.3" cy="454.1" r="2.15"/>
<circle cx="728.1" cy="454.0" r="2.15"/>
<circle cx="733.8" cy="454.5" r="2.15"/>
<circle cx="731.8" cy="454.6" r="2.15"/>
<circle cx="729.9" cy="455.0" r="2.15"/>
<circle cx="728.7" cy="455.0" r="2.15"/>
<circle cx="734.2" cy="455.5" r="2.15"/>
<circle cx="733.6" cy="456.0" r="2.15"/>
<circle cx="729.5" cy="455.8" r="2.15"/>
<circle cx="728.7" cy="456.0" r="2.15"/>
<circle cx="734.2" cy="456.5" r="2.15"/>
<circle cx="729.9" cy="456.6" r="2.15"/>
<circle cx="731.1" cy="457.1" r="2.15"/>
<circle cx="728.2" cy="457.0" r="2.15"/>
<circle cx="733.8" cy="457.5" r="2.15"/>
<circle cx="732.2" cy="458.3" r="2.15"/>
<circle cx="729.4" cy="457.6" r="2.15"/>
<circle cx="728.1" cy="458.0" r="2.15"/>
<circle cx="734.0" cy="458.5" r="2.15"/>
<circle cx="732.3" cy="458.8" r="2.15"/>
<circle cx="733.0" cy="459.2" r="2.15"/>
<circle cx="728.3" cy="459.0" r="2.15"/>
<circle cx="733.8" cy="459.5" r="2.15"/>
<circle cx="734.1" cy="459.8" r="2.15"/>
<circle cx="733.2" cy="459.8" r="2.15"/>
<circle cx="728.0" cy="460.0" r="2.15"/>
<circle cx="734.3" cy="460.5" r="2.15"/>
<circle cx="729.9" cy="461.4" r="2.15"/>
<circle cx="731.1" cy="460.7" r="2.15"/>
<circle cx="728.0" cy="461.0" r="2.15"/>
<circle cx="734.0" cy="461.5" r="2.15"/>
<circle cx="732.2" cy="462.4" r="2.15"/>
<circle cx="728.9" cy="461.9" r="2.15"/>
<circle cx="728.0" cy="462.0" r="2.15"/>
<circle cx="734.5" cy="462.5" r="2.15"/>
<circle cx="728.9" cy="462.6" r="2.15"/>
<circle cx="728.4" cy="462.9" r="2.15"/>
<circle cx="728.6" cy="463.0" r="2.15"/>
<circle cx="734.4" cy="463.5" r="2.15"/>
<circle cx="732.6" cy="464.4" r="2.15"/>
<circle cx="733.9" cy="463.9" r="2.15"/>
<circle cx="728.0" cy="464.0" r="2.15"/>
<circle cx="734.4" cy="464.5" r="2.15"/>
<circle cx="732.7" cy="464.6" r="2.15"/>
<circle cx="732.2" cy="464.9" r="2.15"/>
<circle cx="728.1" cy="465.0" r="2.15"/>
<circle cx="733.9" cy="465.5" r="2.15"/>
<circle cx="729.1" cy="465.6" r="2.15"/>
<circle cx="729.8" cy="465.9" r="2.15"/>
<circle cx="728.7" cy="466.0" r="2.15"/>
<circle cx="733.7" cy="466.5" r="2.15"/>
<circle cx="734.1" cy="466.8" r="2.15"/>
<circle cx="730.2" cy="467.3" r="2.15"/>
<circle cx="728.5" cy="467.0" r="2.15"/>
<circle cx="734.0" cy="467.5" r="2.15"/>
<circle cx="728.3" cy="468.0" r="2.15"/>
<circle cx="730.3" cy="468.3" r="2.15"/>
<circle cx="728.0" cy="468.0" r="2.15"/>
<circle cx="733.9" cy="468.5" r="2.15"/>
<circle cx="733.7" cy="468.6" r="2.15"/>
<circle cx="730.6" cy="469.2" r="2.15"/>
<circle cx="728.5" cy="469.0" r="2.15"/>
<circle cx="733.6" cy="469.5" r="2.15"/>
<circle cx="728.2" cy="469.7" r="2.15"/>
<circle cx="733.8" cy="469.8" r="2.15"/>
<circle cx="728.5" cy="470.0" r="2.15"/>
<circle cx="734.4" cy="470.5" r="2.15"/>
<circle cx="730.1" cy="470.8" r="2.15"/>
<circle cx="734.0" cy="471.1" r="2.15"/>
<circle cx="728.0" cy="471.0" r="2.15"/>
<circle cx="734.2" cy="471.5" r="2.15"/>
<circle cx="730.0" cy="471.8" r="2.15"/>
<circle cx="728.0" cy="472.2" r="2.15"/>
<circle cx="728.6" cy="472.0" r="2.15"/>
<circle cx="734.2" cy="472.5" r="2.15"/>
<circle cx="733.9" cy="472.6" r="2.15"/>
<circle cx="729.5" cy="473.0" r="2.15"/>
<circle cx="728.7" cy="473.0" r="2.15"/>
<circle cx="734.5" cy="473.5" r="2.15"/>
<circle cx="730.4" cy="473.8" r="2.15"/>
<circle cx="730.7" cy="474.0" r="2.15"/>
<circle cx="728.6" cy="474.0" r="2.15"/>
<circle cx="733.8" cy="474.5" r="2.15"/>
<circle cx="733.1" cy="475.2" r="2.15"/>
<circle cx="733.2" cy="475.2" r="2.15"/>
<circle cx="728.3" cy="475.0" r="2.15"/>
<circle cx="733.9" cy="475.5" r="2.15"/>
<circle cx="730.0" cy="475.9" r="2.15"/>
<circle cx="732.9" cy="475.7" r="2.15"/>
<circle cx="728.0" cy="476.0" r="2.15"/>
<circle cx="734.3" cy="476.5" r="2.15"/>
<circle cx="729.6" cy="476.7" r="2.15"/>
<circle cx="728.2" cy="477.0" r="2.15"/>
<circle cx="728.1" cy="477.0" r="2.15"/>
<circle cx="734.5" cy="477.5" r="2.15"/>
<circle cx="733.6" cy="478.4" r="2.15"/>
<circle cx="729.7" cy="477.7" r="2.15"/>
<circle cx="727.9" cy="478.0" r="2.15"/>
<circle cx="734.0" cy="478.5" r="2.15"/>
<circle cx="732.5" cy="479.0" r="2.15"/>
<circle cx="729.5" cy="478.9" r="2.15"/>
<circle cx="728.4" cy="479.0" r="2.15"/>
<circle cx="734.2" cy="479.5" r="2.15"/>
<circle cx="732.7" cy="480.3" r="2.15"/>
<circle cx="732.2" cy="479.7" r="2.15"/>
<circle cx="728.6" cy="480.0" r="2.15"/>
<circle cx="733.9" cy="480.5" r="2.15"/>
<circle cx="731.6" cy="480.9" r="2.15"/>
<circle cx="732.6" cy="480.8" r="2.15"/>
<circle cx="728.0" cy="481.0" r="2.15"/>
<circle cx="733.8" cy="481.5" r="2.15"/>
<circle cx="729.0" cy="482.3" r="2.15"/>
<circle cx="731.6" cy="481.9" r="2.15"/>
<circle cx="728.2" cy="482.0" r="2.15"/>
<circle cx="734.5" cy="482.5" r="2.15"/>
<circle cx="731.2" cy="482.8" r="2.15"/>
<circle cx="733.1" cy="483.1" r="2.15"/>
<circle cx="728.7" cy="483.0" r="2.15"/>
<circle cx="733.7" cy="483.5" r="2.15"/>
<circle cx="731.0" cy="484.3" r="2.15"/>
<circle cx="733.3" cy="484.3" r="2.15"/>
<circle cx="727.8" cy="484.0" r="2.15"/>
<circle cx="733.9" cy="484.5" r="2.15"/>
<circle cx="728.8" cy="484.8" r="2.15"/>
<circle cx="734.1" cy="485.1" r="2.15"/>
<circle cx="728.6" cy="485.0" r="2.15"/>
<circle cx="733.9" cy="485.5" r="2.15"/>
<circle cx="733.5" cy="486.0" r="2.15"/>
<circle cx="729.6" cy="486.2" r="2.15"/>
<circle cx="728.7" cy="486.0" r="2.15"/>
<circle cx="733.7" cy="486.5" r="2.15"/>
<circle cx="731.8" cy="487.1" r="2.15"/>
<circle cx="729.4" cy="486.9" r="2.15"/>
<circle cx="727.9" cy="487.0" r="2.15"/>
<circle cx="733.8" cy="487.5" r="2.15"/>
<circle cx="729.6" cy="488.1" r="2.15"/>
<circle cx="732.1" cy="487.8" r="2.15"/>
<circle cx="727.8" cy="488.0" r="2.15"/>
<circle cx="733.9" cy="488.5" r="2.15"/>
<circle cx="732.3" cy="488.7" r="2.15"/>
<circle cx="730.0" cy="488.8" r="2.15"/>
<circle cx="728.5" cy="489.0" r="2.15"/>
<circle cx="734.1" cy="489.5" r="2.15"/>
<circle cx="728.4" cy="489.7" r="2.15"/>
<circle cx="730.5" cy="490.0" r="2.15"/>
<circle cx="728.4" cy="490.0" r="2.15"/>
<circle cx="733.7" cy="490.5" r="2.15"/>
<circle cx="729.0" cy="491.2" r="2.15"/>
<circle cx="730.6" cy="490.8" r="2.15"/>
<circle cx="728.1" cy="491.0" r="2.15"/>
<circle cx="734.5" cy="491.5" r="2.15"/>
<circle cx="730.0" cy="492.1" r="2.15"/>
<circle cx="730.3" cy="491.9" r="2.15"/>
<circle cx="728.6" cy="492.0" r="2.15"/>
<circle cx="734.5" cy="492.5" r="2.15"/>
<circle cx="730.3" cy="492.8" r="2.15"/>
<circle cx="732.6" cy="492.8" r="2.15"/>
<circle cx="727.8" cy="493.0" r="2.15"/>
<circle cx="734.4" cy="493.5" r="2.15"/>
<circle cx="730.7" cy="494.3" r="2.15"/>
<circle cx="730.6" cy="494.3" r="2.15"/>
<circle cx="728.2" cy="494.0" r="2.15"/>
<circle cx="733.7" cy="494.5" r="2.15"/>
<circle cx="728.1" cy="495.0" r="2.15"/>
<circle cx="732.0" cy="495.3" r="2.15"/>
<circle cx="727.9" cy="495.0" r="2.15"/>
<circle cx="734.2" cy="495.5" r="2.15"/>
<circle cx="730.3" cy="496.0" r="2.15"/>
<circle cx="728.9" cy="495.8" r="2.15"/>
<circle cx="728.3" cy="496.0" r="2.15"/>
<circle cx="734.4" cy="496.5" r="2.15"/>
<circle cx="728.7" cy="497.0" r="2.15"/>
<circle cx="733.1" cy="497.4" r="2.15"/>
<circle cx="728.0" cy="497.0" r="2.15"/>
<circle cx="733.7" cy="497.5" r="2.15"/>
<circle cx="733.9" cy="498.4" r="2.15"/>
<circle cx="731.0" cy="497.6" r="2.15"/>
<circle cx="728.6" cy="498.0" r="2.15"/>
<circle cx="733.9" cy="498.5" r="2.15"/>
<circle cx="733.7" cy="499.1" r="2.15"/>
<circle cx="733.2" cy="498.7" r="2.15"/>
<circle cx="728.5" cy="499.0" r="2.15"/>
<circle cx="733.8" cy="499.5" r="2.15"/>
<circle cx="730.5" cy="500.3" r="2.15"/>
<circle cx="733.2" cy="499.7" r="2.15"/>
<circle cx="728.0" cy="500.0" r="2.15"/>
<circle cx="734.0" cy="500.5" r="2.15"/>
<circle cx="731.3" cy="500.9" r="2.15"/>
<circle cx="728.8" cy="500.8" r="2.15"/>
<circle cx="728.5" cy="501.0" r="2.15"/>
<circle cx="734.4" cy="501.5" r="2.15"/>
<circle cx="728.3" cy="502.0" r="2.15"/>
<circle cx="732.8" cy="501.6" r="2.15"/>
<circle cx="728.6" cy="502.0" r="2.15"/>
<circle cx="733.7" cy="502.5" r="2.15"/>
<circle cx="731.8" cy="503.0" r="2.15"/>
<circle cx="732.0" cy="502.8" r="2.15"/>
<circle cx="728.2" cy="503.0" r="2.15"/>
<circle cx="734.1" cy="503.5" r="2.15"/>
<circle cx="730.7" cy="504.1" r="2.15"/>
<circle cx="730.8" cy="504.0" r="2.15"/>
<circle cx="727.8" cy="504.0" r="2.15"/>
<circle cx="734.2" cy="504.5" r="2.15"/>
<circle cx="731.1" cy="504.8" r="2.15"/>
<circle cx="732.8" cy="505.2" r="2.15"/>
<circle cx="728.2" cy="505.0" r="2.15"/>
<circle cx="733.8" cy="505.5" r="2.15"/>
<circle cx="731.0" cy="505.7" r="2.15"/>
<circle cx="728.8" cy="505.9" r="2.15"/>
<circle cx="727.9" cy="506.0" r="2.15"/>
<circle cx="734.0" cy="506.5" r="2.15"/>
<circle cx="731.2" cy="506.6" r="2.15"/>
<circle cx="732.0" cy="506.7" r="2.15"/>
<circle cx="728.5" cy="507.0" r="2.15"/>
<circle cx="734.3" cy="507.5" r="2.15"/>
<circle cx="731.2" cy="507.6" r="2.15"/>
<circle cx="731.2" cy="507.9" r="2.15"/>
<circle cx="728.7" cy="508.0" r="2.15"/>
<circle cx="733.7" cy="508.5" r="2.15"/>
<circle cx="733.4" cy="509.4" r="2.15"/>
<circle cx="732.6" cy="509.3" r="2.15"/>
<circle cx="728.0" cy="509.0" r="2.15"/>
<circle cx="734.5" cy="509.5" r="2.15"/>
<circle cx="731.1" cy="510.4" r="2.15"/>
<circle cx="733.8" cy="509.7" r="2.15"/>
<circle cx="728.5" cy="510.0" r="2.15"/>
<circle cx="734.4" cy="510.5" r="2.15"/>
<circle cx="728.4" cy="510.9" r="2.15"/>
<circle cx="732.8" cy="510.7" r="2.15"/>
<circle cx="728.6" cy="511.0" r="2.15"/>
<circle cx="733.8" cy="511.5" r="2.15"/>
<circle cx="733.1" cy="511.7" r="2.15"/>
<circle cx="731.2" cy="512.3" r="2.15"/>
<circle cx="728.0" cy="512.0" r="2.15"/>
<circle cx="733.8" cy="512.5" r="2.15"/>
<circle cx="731.2" cy="512.9" r="2.15"/>
<circle cx="728.2" cy="512.7" r="2.15"/>
<circle cx="727.9" cy="513.0" r="2.15"/>
<circle cx="734.4" cy="513.5" r="2.15"/>
<circle cx="732.3" cy="514.3" r="2.15"/>
<circle cx="729.1" cy="514.2" r="2.15"/>
<circle cx="727.9" cy="514.0" r="2.15"/>
<circle cx="734.1" cy="514.5" r="2.15"/>
<circle cx="732.0" cy="514.9" r="2.15"/>
<circle cx="733.5" cy="515.0" r="2.15"/>
<circle cx="728.3" cy="515.0" r="2.15"/>
<circle cx="734.4" cy="515.5" r="2.15"/>
<circle cx="728.7" cy="516.4" r="2.15"/>
<circle cx="732.0" cy="515.9" r="2.15"/>
<circle cx="728.5" cy="516.0" r="2.15"/>
<circle cx="733.8" cy="516.5" r="2.15"/>
<circle cx="734.2" cy="517.1" r="2.15"/>
<circle cx="730.3" cy="517.2" r="2.15"/>
<circle cx="728.2" cy="517.0" r="2.15"/>
<circle cx="733.8" cy="517.5" r="2.15"/>
<circle cx="732.7" cy="517.6" r="2.15"/>
<circle cx="733.2" cy="517.8" r="2.15"/>
<circle cx="728.4" cy="518.0" r="2.15"/>
<circle cx="734.5" cy="518.5" r="2.15"/>
<circle cx="731.7" cy="519.1" r="2.15"/>
<circle cx="730.0" cy="518.6" r="2.15"/>
<circle cx="727.8" cy="519.0" r="2.15"/>
<circle cx="733.7" cy="519.5" r="2.15"/>
<circle cx="731.9" cy="519.9" r="2.15"/>
<circle cx="731.2" cy="520.3" r="2.15"/>
<circle cx="727.9" cy="520.0" r="2.15"/>
<circle cx="733.8" cy="520.5" r="2.15"/>
<circle cx="732.1" cy="520.6" r="2.15"/>
<circle cx="728.0" cy="520.9" r="2.15"/>
<circle cx="727.9" cy="521.0" r="2.15"/>
<circle cx="733.9" cy="521.5" r="2.15"/>
<circle cx="729.4" cy="522.1" r="2.15"/>
<circle cx="731.7" cy="521.8" r="2.15"/>
<circle cx="728.4" cy="522.0" r="2.15"/>
<circle cx="734.0" cy="522.5" r="2.15"/>
<circle cx="728.8" cy="523.3" r="2.15"/>
<circle cx="729.5" cy="522.7" r="2.15"/>
<circle cx="727.9" cy="523.0" r="2.15"/>
<circle cx="734.2" cy="523.5" r="2.15"/>
<circle cx="733.5" cy="524.2" r="2.15"/>
<circle cx="730.5" cy="523.8" r="2.15"/>
<circle cx="727.8" cy="524.0" r="2.15"/>
<circle cx="734.2" cy="524.5" r="2.15"/>
<circle cx="731.5" cy="524.9" r="2.15"/>
<circle cx="732.1" cy="525.0" r="2.15"/>
<circle cx="728.6" cy="525.0" r="2.15"/>
<circle cx="734.3" cy="525.5" r="2.15"/>
<circle cx="729.6" cy="526.3" r="2.15"/>
<circle cx="728.3" cy="526.0" r="2.15"/>
<circle cx="728.2" cy="526.0" r="2.15"/>
<circle cx="733.8" cy="526.5" r="2.15"/>
<circle cx="728.4" cy="527.2" r="2.15"/>
<circle cx="728.1" cy="527.0" r="2.15"/>
<circle cx="728.6" cy="527.0" r="2.15"/>
<circle cx="733.7" cy="527.5" r="2.15"/>
<circle cx="729.3" cy="528.1" r="2.15"/>
<circle cx="731.2" cy="528.1" r="2.15"/>
<circle cx="728.5" cy="528.0" r="2.15"/>
<circle cx="733.8" cy="528.5" r="2.15"/>
<circle cx="729.9" cy="528.8" r="2.15"/>
<circle cx="728.3" cy="529.3" r="2.15"/>
<circle cx="728.5" cy="529.0" r="2.15"/>
<circle cx="734.2" cy="529.5" r="2.15"/>
<circle cx="728.0" cy="530.3" r="2.15"/>
<circle cx="732.7" cy="530.0" r="2.15"/>
<circle cx="728.5" cy="530.0" r="2.15"/>
<circle cx="734.0" cy="530.5" r="2.15"/>
<circle cx="729.4" cy="530.7" r="2.15"/>
<circle cx="729.5" cy="530.6" r="2.15"/>
<circle cx="728.1" cy="531.0" r="2.15"/>
<circle cx="734.3" cy="531.5" r="2.15"/>
<circle cx="732.4" cy="532.3" r="2.15"/>
<circle cx="732.5" cy="531.8" r="2.15"/>
<circle cx="728.3" cy="532.0" r="2.15"/>
<circle cx="734.0" cy="532.5" r="2.15"/>
<circle cx="733.0" cy="533.0" r="2.15"/>
<circle cx="729.7" cy="533.1" r="2.15"/>
<circle cx="728.7" cy="533.0" r="2.15"/>
<circle cx="733.8" cy="533.5" r="2.15"/>
<circle cx="733.5" cy="533.6" r="2.15"/>
<circle cx="729.6" cy="533.8" r="2.15"/>
<circle cx="728.5" cy="534.0" r="2.15"/>
<circle cx="734.5" cy="534.5" r="2.15"/>
<circle cx="732.7" cy="534.9" r="2.15"/>
<circle cx="733.5" cy="534.9" r="2.15"/>
<circle cx="728.0" cy="535.0" r="2.15"/>
<circle cx="734.4" cy="535.5" r="2.15"/>
<circle cx="732.0" cy="536.2" r="2.15"/>
<circle cx="732.2" cy="536.4" r="2.15"/>
<circle cx="728.2" cy="536.0" r="2.15"/>
<circle cx="734.4" cy="536.5" r="2.15"/>
<circle cx="732.4" cy="537.3" r="2.15"/>
<circle cx="730.8" cy="537.2" r="2.15"/>
<circle cx="728.3" cy="537.0" r="2.15"/>
<circle cx="733.9" cy="537.5" r="2.15"/>
<circle cx="729.3" cy="538.1" r="2.15"/>
<circle cx="728.5" cy="538.3" r="2.15"/>
<circle cx="727.9" cy="538.0" r="2.15"/>
<circle cx="733.6" cy="538.5" r="2.15"/>
<circle cx="729.0" cy="539.3" r="2.15"/>
<circle cx="730.3" cy="538.7" r="2.15"/>
<circle cx="728.2" cy="539.0" r="2.15"/>
<circle cx="733.3" cy="539.5" r="2.15"/>
<circle cx="732.1" cy="540.1" r="2.15"/>
<circle cx="732.1" cy="540.2" r="2.15"/>
<circle cx="728.6" cy="540.0" r="2.15"/>
<circle cx="733.4" cy="540.5" r="2.15"/>
<circle cx="730.6" cy="541.3" r="2.15"/>
<circle cx="732.5" cy="541.3" r="2.15"/>
<circle cx="729.0" cy="541.0" r="2.15"/>
<circle cx="733.3" cy="541.5" r="2.15"/>
<circle cx="732.6" cy="542.4" r="2.15"/>
<circle cx="729.8" cy="541.8" r="2.15"/>
<circle cx="729.4" cy="542.0" r="2.15"/>
<circle cx="732.2" cy="542.5" r="2.15"/>
<circle cx="732.1" cy="543.2" r="2.15"/>
<circle cx="731.6" cy="543.3" r="2.15"/>
<circle cx="730.2" cy="543.0" r="2.15"/>
<circle cx="732.1" cy="543.5" r="2.15"/>
<circle cx="730.4" cy="543.7" r="2.15"/>
<circle cx="731.7" cy="543.8" r="2.15"/>
<circle cx="730.3" cy="544.0" r="2.15"/>
<circle cx="731.9" cy="544.5" r="2.15"/>
<circle cx="730.2" cy="544.8" r="2.15"/>
<circle cx="730.8" cy="545.2" r="2.15"/>
<circle cx="730.3" cy="545.0" r="2.15"/>
<circle cx="731.8" cy="545.5" r="2.15"/>
<circle cx="732.1" cy="546.0" r="2.15"/>
<circle cx="731.9" cy="546.1" r="2.15"/>
<circle cx="730.0" cy="546.0" r="2.15"/>
<circle cx="731.9" cy="546.5" r="2.15"/>
<circle cx="731.1" cy="547.2" r="2.15"/>
<circle cx="730.9" cy="547.2" r="2.15"/>
<circle cx="730.5" cy="547.0" r="2.15"/>
<circle cx="731.7" cy="547.5" r="2.15"/>
<circle cx="731.9" cy="547.7" r="2.15"/>
<circle cx="731.8" cy="547.7" r="2.15"/>
<circle cx="730.0" cy="548.0" r="2.15"/>
<circle cx="731.7" cy="548.5" r="2.15"/>
<circle cx="731.7" cy="549.4" r="2.15"/>
<circle cx="730.2" cy="549.0" r="2.15"/>
<circle cx="730.4" cy="549.0" r="2.15"/>
<circle cx="732.2" cy="549.5" r="2.15"/>
<circle cx="730.6" cy="550.0" r="2.15"/>
<circle cx="730.9" cy="550.3" r="2.15"/>
<circle cx="730.2" cy="550.0" r="2.15"/>
<circle cx="732.3" cy="550.5" r="2.15"/>
<circle cx="730.8" cy="550.8" r="2.15"/>
<circle cx="731.6" cy="551.0" r="2.15"/>
<circle cx="730.1" cy="551.0" r="2.15"/>
<circle cx="732.1" cy="551.5" r="2.15"/>
<circle cx="730.4" cy="552.2" r="2.15"/>
<circle cx="731.6" cy="552.2" r="2.15"/>
<circle cx="730.6" cy="552.0" r="2.15"/>
<circle cx="731.8" cy="552.5" r="2.15"/>
<circle cx="731.0" cy="552.9" r="2.15"/>
<circle cx="732.0" cy="552.7" r="2.15"/>
<circle cx="730.8" cy="553.0" r="2.15"/>
<circle cx="731.5" cy="553.5" r="2.15"/>
<circle cx="730.6" cy="553.8" r="2.15"/>
<circle cx="732.0" cy="554.0" r="2.15"/>
<circle cx="730.3" cy="554.0" r="2.15"/>
<circle cx="732.3" cy="554.5" r="2.15"/>
<circle cx="730.7" cy="555.0" r="2.15"/>
<circle cx="731.3" cy="555.2" r="2.15"/>
<circle cx="730.7" cy="555.0" r="2.15"/>
<circle cx="732.1" cy="555.5" r="2.15"/>
<circle cx="732.3" cy="556.3" r="2.15"/>
<circle cx="734.5" cy="558.4" r="2.15"/>
<circle cx="729.8" cy="558.8" r="2.15"/>
<circle cx="727.7" cy="560.8" r="2.15"/>
<circle cx="732.3" cy="563" r="2.15"/>
<circle cx="727.7" cy="566.2" r="2.15"/>
<circle cx="731.9" cy="566.9" r="2.15"/>
<circle cx="733.6" cy="572.4" r="2.15"/>
<circle cx="731.9" cy="575.3" r="2.15"/>
<circle cx="729.4" cy="577.4" r="2.15"/>
<circle cx="731.5" cy="577.9" r="2.15"/>
<circle cx="729.4" cy="580.8" r="2.15"/>
<circle cx="729.4" cy="585.9" r="2.15"/>
<circle cx="732.3" cy="587.6" r="2.15"/>
<circle cx="731.9" cy="590.1" r="2.15"/>
<circle cx="732.3" cy="600.7" r="2.15"/>
<circle cx="734.5" cy="601.7" r="2.15"/>
<circle cx="731.5" cy="602" r="2.15"/>
<circle cx="729.5" cy="609" r="2.15"/>
<circle cx="734.4" cy="621.9" r="2.15"/>
<circle cx="838.4" cy="255.6" r="2.15"/>
<circle cx="834.2" cy="260.7" r="2.15"/>
<circle cx="834.6" cy="262.4" r="2.15"/>
<circle cx="839.9" cy="264.6" r="2.15"/>
<circle cx="841.1" cy="269.7" r="2.15"/>
<circle cx="832.9" cy="274" r="2.15"/>
<circle cx="840.1" cy="281" r="2.15"/>
<circle cx="840.8" cy="282.3" r="2.15"/>
<circle cx="841" cy="290.7" r="2.15"/>
<circle cx="838.4" cy="292.4" r="2.15"/>
<circle cx="840.1" cy="293.7" r="2.15"/>
<circle cx="834.6" cy="297.7" r="2.15"/>
<circle cx="840.3" cy="314.9" r="2.15"/>
<circle cx="840.5" cy="322.1" r="2.15"/>
<circle cx="838.4" cy="323.4" r="2.15"/>
<circle cx="834.8" cy="324.8" r="2.15"/>
<circle cx="841.1" cy="331" r="2.15"/>
<circle cx="834.6" cy="340.3" r="2.15"/>
<circle cx="840.3" cy="338.8" r="2.15"/>
<circle cx="840" cy="341.6" r="2.15"/>
<circle cx="841.1" cy="347.1" r="2.15"/>
<circle cx="838.3" cy="349.6" r="2.15"/>
<circle cx="840.3" cy="350.7" r="2.15"/>
<circle cx="841" cy="355.7" r="2.15"/>
<circle cx="838.3" cy="363.4" r="2.15"/>
<circle cx="840.2" cy="376.6" r="2.15"/>
<circle cx="838.3" cy="384.5" r="2.15"/>
<circle cx="841.1" cy="384.5" r="2.15"/>
<circle cx="840" cy="389.7" r="2.15"/>
<circle cx="840.2" cy="418.3" r="2.15"/>
<circle cx="834.6" cy="425.5" r="2.15"/>
<circle cx="838.4" cy="425.1" r="2.15"/>
<circle cx="841.0" cy="436.7" r="2.15"/>
<circle cx="841.1" cy="440.6" r="2.15"/>
<circle cx="839.9" cy="442.7" r="2.15"/>
<circle cx="840.2" cy="492.9" r="2.15"/>
</g>
<path d="M722.5 455.5H742.5M732.5 445.5V465.5" stroke="#000" stroke-width="2" fill="none"/>
<text class="an" x="294.1 317.9 326.2 344.4 363.8 373.8 393 412.9 425.9 445.8 455.8 477.7 496.9 509.3 528.6 538.6 551.2 567.3 578.2 595 607.4 617.6 643.8 653.7 673.6 683.5 703.5 723.4 743.3 763.2 783.4 793.5 809.4 820.1 836.8 847 873.4 883.4 905.2 924.4 933 941.6 951.5 968.7 987.8 1007.6 1019.8 1032.5 1051.7 1060.6 1070.8 1083 1100.2 1119.3 1139.1 1159 1171.2 1187.5 1199.3 1208.9 1224.7 1234.8 1246 1265.9 1275.8 1295.7 1315.6 1335.5 1355.4 1375.3 1395.3 1415.2" y="686.6">Dive Turn Rate (°/s) = 5.11627 °/s + Roll control (counts) * -0.00196075</text>
<text class="an" x="294.1 317.9 326.2 344.4 363.8 373.8 393 412.9 425.9 445.8 455.8 477.7 496.9 509.3 528.6 538.6 551.2 567.3 578.2 595 607.4 617.6 643.9 653.8 673.7 683.6 703.6 723.5 743.5 763.4 783.3 803.3 823.5 833.7 849.6 860.4 877 887.1 913.5 923.5 945.3 964.4 973 981.6 991.4 1008.6 1027.7 1047.5 1059.7 1072.5 1091.6 1100.6 1110.8 1123.2 1139.1 1151.4 1161.4 1177.5 1187.9 1199 1218.8 1228.5 1248.3 1268 1287.8 1307.5 1327.3 1347.1" y="723.8">Dive Turn Rate (°/s) = 0.0574303 °/s + Roll control (°) * -0.0693531</text>
<text class="an" x="294.1 315.6 323.8 332.1 362.3 382.3 392.3 411.5 431.4 444.4 464.3 474.3 496.2 515.5 527.8 547.2 557.2 569.8 586 597 613.8 626.4 636.7 662.9 672.7 683.8 703.6 713.4 733.2 753.1 772.9 793.2 803.5 819.6 830.5 847.2 857.5 883.9 893.9 915.7 934.8 943.5 952.1 962 979.1 998.1 1017.8 1029.9 1042.6 1061.6 1070.4 1080.5 1092.8 1110.2 1129.5 1149.5 1169.4 1181.8 1198.3 1209.9 1219.2 1234.6 1244.3 1264.3 1274.3 1294.3 1314.3 1334.3 1354.3 1374.3 1394.3 1414.3" y="761.7">Climb Turn Rate (°/s) = -5.4336 °/s + Roll control (counts) * 0.00225317</text>
<text class="an" x="294.1 315.6 323.8 332.1 362.3 382.3 392.3 411.5 431.4 444.4 464.3 474.3 496.2 515.5 527.8 547.2 557.2 569.8 586 597 613.8 626.4 636.7 662.9 672.7 692.6 702.4 722.2 742.1 761.9 781.7 801.6 821.4 841.5 851.8 867.9 878.9 895.6 906 932 941.7 963.4 982.4 991 999.5 1009.4 1026.6 1045.8 1065.7 1078 1090.9 1110.1 1119 1129.1 1142.1 1158.6 1170.7 1180.6 1196 1205.7 1225.5 1235.3 1255.2 1275 1294.9 1314.7 1334.6 1354.5" y="798.9">Climb Turn Rate (°/s) = 0.0145613 °/s + Roll control (°) * 0.0796945</text>
<text class="an" x="413.2" y="203.2">C</text>
<text class="an ss" x="436.5 452.4 459.3 474.1" y="188.3">dive</text>
<text class="an ss" x="436.5 446.8 462.1 469" y="218.6">roll</text>
<text class="an" x="499.9 526 535.8 555.5 575.2 594.9" y="203.2">= 2580</text>
<text class="an" x="674.7" y="203.2">C</text>
<text class="an ss" x="698.2 711.9 718.9 725.8 750.2" y="188.3">climb</text>
<text class="an ss" x="698.2 708.5 723.8 730.7" y="218.6">roll</text>
<text class="an" x="777 803.1 812.9 832.9 852.9 872.8" y="203.2">= 2418</text>
<text class="an" x="294.1 303.2 333.6 353.4 361.9 370.4 389.6 409.8 420.1" y="263.6">Implied C</text>
<text class="an ss" x="441.9 457.8 464.7 479.5" y="248.7">dive</text>
<text class="an ss" x="441.9 452.2 467.5 474.4" y="279.0">roll</text>
<text class="an" x="506 532.1 541.9 561.7 581.6 601.4 621.2 631 650.8" y="263.6">= 2609.29</text>
<text class="an" x="731.1" y="263.6">C</text>
<text class="an ss" x="754.2 767.9 774.9 781.8 806.2" y="248.7">climb</text>
<text class="an ss" x="754.2 764.5 779.8 786.7" y="279.0">roll</text>
<text class="an" x="833 859.1 868.9 888.8 908.8 928.7 948.6 958.5 978.4" y="263.6">= 2411.54</text>
<text class="an" x="294.1 315.3 331.5 347.6 367.2 397.6 416.7 436.8 447 460 479.2 488 496.3 505.9 523.1 542.3 562.2 574.4 587.2 606.4 614.9 624.7 644.5 663.6 672.2 692.3 702.4 728.7 738.6 758.5 778.5 788.4 808.3 828.4 838.5 850.8 868.1 887.4 907.4 927.4 939.7 956.2 966.8 982.6 992.6 1005 1024.2 1034.3 1050.7 1063.1 1083.1 1103.1" y="313.5">Assumed roll control gain = 35.37 (counts/° to stbd)</text>
<g fill="none" stroke-width="1.15">
<polyline points="381.2,70.5 412.7,105.4 454.9,149.8 520.3,220.1 601.9,306.8 651,360 745,460 780.2,497.9 824.1,545 899.6,624.6 1033.8,770 1100.4,840.8" stroke="#0000ff"/>
<line x1="998.3" y1="70.5" x2="371.6" y2="840.8" stroke="#ff0000"/>
</g>
<g class="tk">
<text x="215.5 223 236" y="870">-50</text>
<text x="315.5 323 336" y="870">-40</text>
<text x="415.5 423 436" y="870">-30</text>
<text x="515.5 523 536" y="870">-20</text>
<text x="615.5 623 636" y="870">-10</text>
<text x="725" y="870">0</text>
<text x="819 832" y="870">10</text>
<text x="919 932" y="870">20</text>
<text x="1018 1031" y="870">30</text>
<text x="1118 1131" y="870">40</text>
<text x="1218 1231" y="870">50</text>
<text x="133 141 154 161" y="848.0">-2.5</text>
<text x="154 162" y="771.0">-2</text>
<text x="133 141 154 161" y="694.0">-1.5</text>
<text x="154 162" y="617.0">-1</text>
<text x="133 141 154 161" y="540.0">-0.5</text>
<text x="160" y="463.0">0</text>
<text x="142 155 162" y="386.0">0.5</text>
<text x="160" y="309.0">1</text>
<text x="142 155 162" y="232.0">1.5</text>
<text x="160" y="155.0">2</text>
<text x="142 155 162" y="78.0">2.5</text>
</g>
<text class="lb" text-anchor="middle" x="731.3" y="913.9">Roll Control (°)</text>
<text class="lb" text-anchor="middle" transform="translate(117 456.4) rotate(-90)">Turn rate (°/s) (starboard positive)</text>
<text class="ti" text-anchor="middle" x="732.3" y="47.2">SG620 TARSAN 2022, dive 265 started 16-Feb-2022 20:19:31</text>
<rect x="1087.5" y="87.5" width="177" height="160" fill="#fff" stroke="#262626" stroke-width="1" shape-rendering="crispEdges"/>
<circle cx="1127.1" cy="110.2" r="2.2" fill="#0000ff"/>
<circle cx="1127.1" cy="148.4" r="2.2" fill="#ff0000"/>
<line x1="1096.3" y1="186.5" x2="1158.7" y2="186.5" stroke="#0000ff" stroke-width="1"/>
<line x1="1096.3" y1="224.5" x2="1158.7" y2="224.5" stroke="#ff0000" stroke-width="1"/>
<g class="lg">
<text x="1165.1" y="120.7">Dive</text>
<text x="1165.1" y="158.7">Climb</text>
<text x="1165.1" y="196.7">data1</text>
<text x="1165.1" y="234.9">data2</text>
</g>
</svg>
</body></html>
